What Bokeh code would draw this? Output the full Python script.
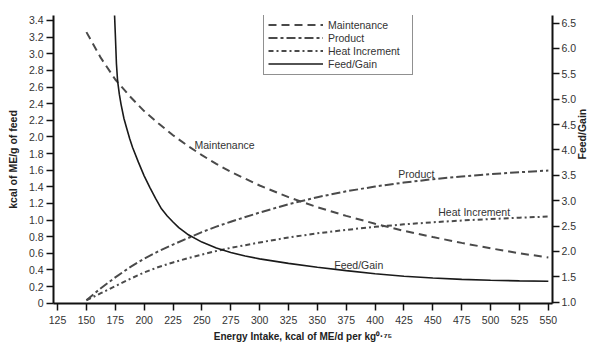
from bokeh.plotting import figure
from bokeh.models import (Range1d, LinearAxis, FixedTicker, CustomJSTickFormatter,
                          Label, Legend, LegendItem)
from bokeh.embed import file_html
from bokeh.resources import INLINE

# ---- data ----
x_ticks = [125, 150, 175, 200, 225, 250, 275, 300, 325, 350, 375, 400, 425, 450, 475, 500, 525, 550]
left_ticks = [0, 0.2, 0.4, 0.6, 0.8, 1.0, 1.2, 1.4, 1.6, 1.8, 2.0, 2.2, 2.4, 2.6, 2.8, 3.0, 3.2, 3.4]
right_ticks = [1.0, 1.5, 2.0, 2.5, 3.0, 3.5, 4.0, 4.5, 5.0, 5.5, 6.0, 6.5]

maint_x = [150, 162.5, 175, 187.5, 200, 212.5, 225, 237.5, 250, 262.5, 275, 300, 325, 350, 375, 400, 425, 450, 475, 500, 525, 550]
maint_y = [3.26, 2.95, 2.69, 2.49, 2.31, 2.16, 2.02, 1.895, 1.78, 1.675, 1.58, 1.415, 1.275, 1.155, 1.05, 0.955, 0.87, 0.795, 0.725, 0.66, 0.60, 0.55]

prod_x = [150, 162.5, 175, 187.5, 200, 212.5, 225, 237.5, 250, 262.5, 275, 300, 325, 350, 375, 400, 425, 450, 475, 500, 525, 550]
prod_y = [0.035, 0.18, 0.31, 0.43, 0.535, 0.625, 0.705, 0.78, 0.855, 0.92, 0.98, 1.09, 1.19, 1.275, 1.345, 1.403, 1.451, 1.491, 1.524, 1.552, 1.575, 1.595]

heat_x = [150, 162.5, 175, 187.5, 200, 212.5, 225, 237.5, 250, 262.5, 275, 300, 325, 350, 375, 400, 425, 450, 475, 500, 525, 550]
heat_y = [0.035, 0.12, 0.205, 0.29, 0.37, 0.435, 0.49, 0.54, 0.585, 0.627, 0.665, 0.73, 0.79, 0.84, 0.882, 0.918, 0.948, 0.973, 0.994, 1.012, 1.028, 1.042]

fg_x = [174.3, 175, 176, 177, 178.5, 180, 182.5, 185, 187.5, 190, 195, 200, 205, 210, 215, 220, 225, 230, 237.5, 250, 262.5, 275, 287.5, 300, 325, 350, 375, 400, 425, 450, 475, 500, 525, 550]
fg_y = [6.7, 6.3, 5.7, 5.36, 5.1, 4.9, 4.62, 4.42, 4.22, 4.05, 3.76, 3.49, 3.26, 3.04, 2.84, 2.70, 2.58, 2.47, 2.34, 2.185, 2.07, 1.98, 1.91, 1.855, 1.765, 1.69, 1.622, 1.562, 1.513, 1.477, 1.451, 1.433, 1.421, 1.413]

series_names = ["Maintenance", "Product", "Heat Increment", "Feed/Gain"]
x_title = "Energy Intake, kcal of ME/d per kg\u2070\u00b7\u2077\u2075"
y_title = "kcal of ME/g of feed"
y2_title = "Feed/Gain"

FONT = "Liberation Sans"
TXT = "#333333"

p = figure(width=598, height=345, output_backend="svg", toolbar_location=None,
           x_range=Range1d(121.5, 553.6), y_range=Range1d(-0.004, 3.46),
           min_border_left=53, min_border_right=46, min_border_top=15, min_border_bottom=42)
p.outline_line_color = None
p.xgrid.visible = False
p.ygrid.visible = False
p.background_fill_color = "white"
p.border_fill_color = "white"
p.extra_y_ranges = {"right": Range1d(0.975, 6.65)}

line_col = "#4a4a4a"
r_m = p.line(maint_x, maint_y, line_color=line_col, line_width=2, line_dash="8 5")
r_p = p.line(prod_x, prod_y, line_color=line_col, line_width=2, line_dash="9 3 3 3")
r_h = p.line(heat_x, heat_y, line_color=line_col, line_width=2, line_dash="5 3 2 3")
r_f = p.line(fg_x, fg_y, line_color="#1a1a1a", line_width=1.6, y_range_name="right")

def style_axis(ax):
    ax.axis_line_width = 2
    ax.axis_line_color = "#111111"
    ax.major_tick_line_width = 1.5
    ax.major_tick_line_color = "#111111"
    ax.major_tick_out = 7
    ax.major_tick_in = 0
    ax.minor_tick_line_color = None
    ax.major_label_text_font = FONT
    ax.major_label_text_font_size = "10.5px"
    ax.major_label_text_color = TXT
    ax.axis_label_text_font = FONT
    ax.axis_label_text_font_style = "bold"
    ax.axis_label_text_font_size = "10.5px"
    ax.axis_label_text_color = "#222222"

xa = p.xaxis[0]
style_axis(xa)
xa.ticker = FixedTicker(ticks=x_ticks)
xa.major_label_standoff = 5
xa.axis_label = x_title
xa.axis_label_standoff = 4
xa.axis_label_text_font_size = "10px"

ya = p.yaxis[0]
style_axis(ya)
ya.ticker = FixedTicker(ticks=left_ticks)
ya.formatter = CustomJSTickFormatter(code="return Math.abs(tick) < 1e-9 ? '0' : tick.toFixed(1);")
ya.major_label_standoff = 3
ya.axis_label = y_title
ya.axis_label_standoff = 7

ra = LinearAxis(y_range_name="right")
style_axis(ra)
ra.ticker = FixedTicker(ticks=right_ticks)
ra.formatter = CustomJSTickFormatter(code="return tick.toFixed(1);")
ra.major_label_standoff = 2
ra.axis_label = y2_title
ra.axis_label_standoff = 3
ra.axis_label_orientation = 1.5707963
p.add_layout(ra, "right")

# in-plot curve labels
lab_pos = [(243.6, 1.904), (420.0, 1.555), (454.7, 1.094), (364.6, 0.46)]
for name, (lx, ly) in zip(series_names, lab_pos):
    p.add_layout(Label(x=lx, y=ly, text=name, text_align="left", text_baseline="middle",
                       text_font=FONT, text_font_size="10.5px", text_color=TXT))

legend = Legend(items=[LegendItem(label=series_names[0], renderers=[r_m]),
                       LegendItem(label=series_names[1], renderers=[r_p]),
                       LegendItem(label=series_names[2], renderers=[r_h]),
                       LegendItem(label=series_names[3], renderers=[r_f])],
                location=(210, 228))
legend.border_line_color = "#222222"
legend.border_line_width = 1
legend.background_fill_alpha = 1
legend.label_text_font = FONT
legend.label_text_font_size = "10.5px"
legend.label_text_color = TXT
legend.label_height = 13
legend.label_width = 80
legend.glyph_height = 13
legend.glyph_width = 55
legend.label_standoff = 5
legend.spacing = 0
legend.padding = 4
legend.margin = 0
p.add_layout(legend)

open("out.html", "w").write(file_html(p, INLINE))
